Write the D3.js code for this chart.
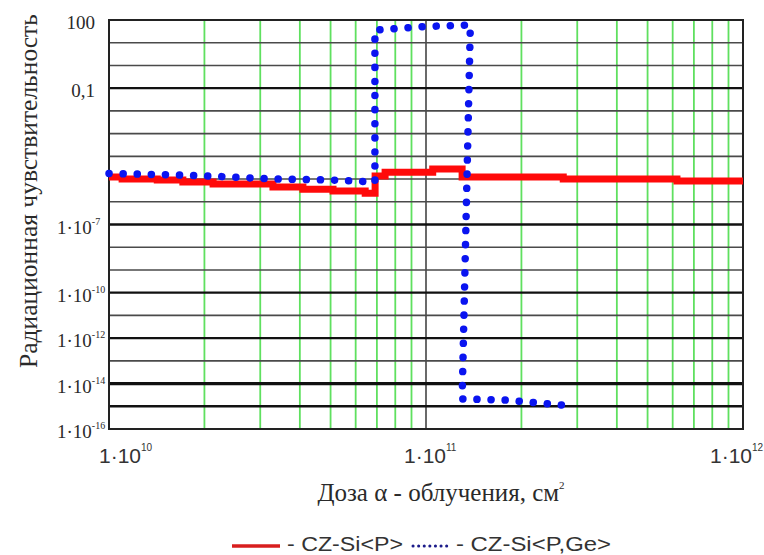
<!DOCTYPE html>
<html>
<head>
<meta charset="utf-8">
<style>
  body { margin: 0; background: #fff; }
  .serif { font-family: "Liberation Serif", "Times New Roman", serif; fill: #2a2a2a; }
  .sans { font-family: "Liberation Sans", Arial, sans-serif; fill: #333; }
</style>
</head>
<body>
<script src="https://d3js.org/d3.v7.min.js"></script>
<div id="chart"></div>
<script>
// dose, cm^-2 (step breakpoints) and sensitivity for CZ-Si<P>
var redDose = [1e10, 1.1e10, 1.42e10, 1.71e10, 2.13e10, 3.29e10, 4.09e10, 5.09e10, 6.43e10, 6.91e10, 7.43e10, 1.05e11, 1.3e11, 2.71e11, 6.19e11, 1e12];
var redSens = [1.23e-5, 1.0e-5, 9.1e-6, 7.4e-6, 6.0e-6, 4.5e-6, 3.6e-6, 3.0e-6, 2.4e-6, 1.35e-5, 2.0e-5, 2.8e-5, 1.23e-5, 1.0e-5, 8.2e-6, 8.2e-6];

// CZ-Si<P,Ge>
var blueDose = [1e10, 1.66e10, 2.24e10, 3.34e10, 4.98e10, 6.9e10, 6.9e10, 1.0e11, 1.38e11, 1.30e11, 1.8e11, 2.75e11];
var blueSens = [1.75e-5, 1.51e-5, 1.29e-5, 1.0e-5, 9.1e-6, 7.4e-6, 36, 52, 60, 2.1e-15, 1.86e-15, 1.1e-15];

var xTickVals = [1e10, 1e11, 1e12];
var xTickBase = ["1·10", "1·10", "1·10"];
var xTickExp = ["10", "11", "12"];

var yTickVals = [1e2, 1e-1, 1e-7, 1e-10, 1e-12, 1e-14, 1e-16];
var yTickBase = ["100", "0,1", "1·10", "1·10", "1·10", "1·10", "1·10"];
var yTickExp = ["", "", "-7", "-10", "-12", "-14", "-16"];

var seriesNames = ["- CZ-Si<P>", "- CZ-Si<P,Ge>"];

var width = 764, height = 555;
var plotL = 109, plotR = 743, plotT = 20, plotB = 429;

var svg = d3.select("#chart").append("svg")
    .attr("width", width)
    .attr("height", height);

var x = d3.scaleLog().domain([1e10, 1e12]).range([plotL, plotR]);
var y = d3.scaleLog().domain([1e-16, 1e2]).range([plotB, plotT]);

// vertical grid (green minors, black decade)
var xGrid = x.ticks();
svg.append("g").selectAll("line")
    .data(xGrid.filter(function(d) { return Math.abs(Math.log10(d) % 1) > 1e-6; }))
    .enter().append("line")
    .attr("x1", function(d) { return x(d); })
    .attr("x2", function(d) { return x(d); })
    .attr("y1", plotT).attr("y2", plotB)
    .attr("stroke", "#5fe05f")
    .attr("stroke-width", 1.8);

svg.append("line")
    .attr("x1", x(1e11)).attr("x2", x(1e11))
    .attr("y1", plotT).attr("y2", plotB)
    .attr("stroke", "#444").attr("stroke-width", 1.6);

// horizontal grid
var heavy = [-1, -7, -10, -12, -15];
svg.append("g").selectAll("line")
    .data(y.ticks(18))
    .enter().append("line")
    .attr("x1", plotL).attr("x2", plotR)
    .attr("y1", function(d) { return y(d); })
    .attr("y2", function(d) { return y(d); })
    .attr("stroke", function(d) {
        var e = Math.round(Math.log10(d));
        return (heavy.indexOf(e) >= 0 || e == -14) ? "#111" : "#4a4a4a";
    })
    .attr("stroke-width", function(d) {
        var e = Math.round(Math.log10(d));
        if (e == -14) return 3.2;
        return heavy.indexOf(e) >= 0 ? 2.4 : 1.6;
    });

// frame
svg.append("rect")
    .attr("x", plotL).attr("y", plotT)
    .attr("width", plotR - plotL).attr("height", plotB - plotT)
    .attr("fill", "none").attr("stroke", "#222").attr("stroke-width", 2);

// red step line
var redLine = d3.line()
    .x(function(d) { return x(d[0]); })
    .y(function(d) { return y(d[1]); })
    .curve(d3.curveStepAfter);

svg.append("path")
    .datum(d3.zip(redDose, redSens))
    .attr("fill", "none")
    .attr("stroke", "#ff0a0a")
    .attr("stroke-width", 7)
    .attr("d", redLine);

// blue dotted line
var blueLine = d3.line()
    .x(function(d) { return x(d[0]); })
    .y(function(d) { return y(d[1]); });

svg.append("path")
    .datum(d3.zip(blueDose, blueSens))
    .attr("fill", "none")
    .attr("stroke", "#0a14f0")
    .attr("stroke-width", 7.5)
    .attr("stroke-linecap", "round")
    .attr("stroke-dasharray", "0.1 14")
    .attr("d", blueLine);

// y tick labels
var yl = svg.append("g").selectAll("text")
    .data(yTickVals)
    .enter().append("text")
    .attr("class", "serif")
    .attr("font-size", 19)
    .attr("text-anchor", function(d, i) { return yTickExp[i] ? "start" : "end"; })
    .attr("x", function(d, i) { return yTickExp[i] ? 57 : 95; })
    .attr("y", function(d) { return y(d) + 9; });
yl.append("tspan").text(function(d, i) { return yTickBase[i]; });
yl.append("tspan")
    .attr("font-size", 10)
    .attr("dy", -9)
    .text(function(d, i) { return yTickExp[i]; });

// x tick labels
var xl = svg.append("g").selectAll("text")
    .data(xTickVals)
    .enter().append("text")
    .attr("class", "sans")
    .attr("font-size", 21)
    .attr("x", function(d, i) { return x(d) + [-10, -22, -33][i]; })
    .attr("y", 463);
xl.append("tspan").text(function(d, i) { return xTickBase[i]; });
xl.append("tspan")
    .attr("font-size", 10)
    .attr("dy", -12)
    .text(function(d, i) { return xTickExp[i]; });

// axis titles
var xt = svg.append("text")
    .attr("class", "serif")
    .attr("font-size", 25)
    .attr("text-anchor", "middle")
    .attr("x", 441).attr("y", 501);
xt.append("tspan").text("Доза α - облучения, см");
xt.append("tspan").attr("font-size", 11).attr("dy", -12).text("2");

svg.append("text")
    .attr("class", "serif")
    .attr("font-size", 25.5)
    .attr("text-anchor", "middle")
    .attr("transform", "translate(37,191) rotate(-90)")
    .text("Радиационная чувствительность");

// legend
var lg = svg.append("g");
lg.append("line")
    .attr("x1", 232).attr("x2", 280).attr("y1", 546).attr("y2", 546)
    .attr("stroke", "#d81e1e").attr("stroke-width", 3.5);
lg.append("text")
    .attr("class", "sans").attr("font-size", 20)
    .attr("x", 287).attr("y", 551)
    .attr("textLength", 116).attr("lengthAdjust", "spacingAndGlyphs")
    .text(seriesNames[0]);
lg.append("line")
    .attr("x1", 413).attr("x2", 452).attr("y1", 546).attr("y2", 546)
    .attr("stroke", "#1c1c8a").attr("stroke-width", 3)
    .attr("stroke-linecap", "round")
    .attr("stroke-dasharray", "0.1 5.5");
lg.append("text")
    .attr("class", "sans").attr("font-size", 20)
    .attr("x", 456).attr("y", 551)
    .attr("textLength", 155).attr("lengthAdjust", "spacingAndGlyphs")
    .text(seriesNames[1]);
</script>
</body>
</html>
